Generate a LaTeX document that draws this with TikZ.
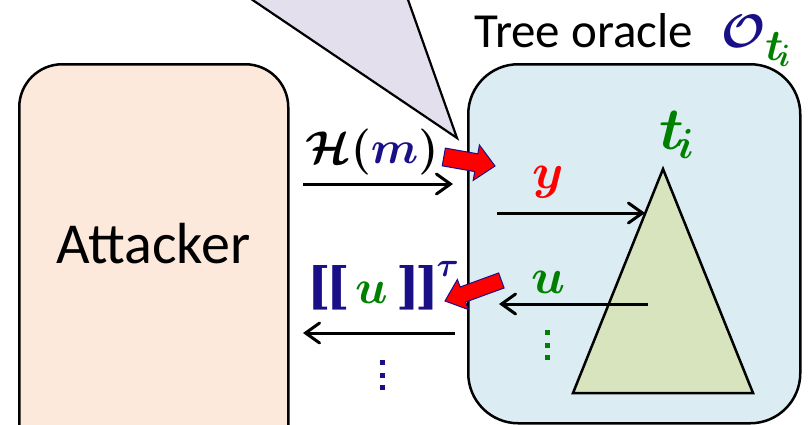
\RequirePackage{fix-cm}
\documentclass[tikz,border=0pt]{standalone}
\usepackage{amsmath}
\usepackage[no-math]{fontspec}
\setmainfont{Carlito}
\newfontfamily\brfont{DejaVu Serif}
\usetikzlibrary{arrows.meta}
\definecolor{navy}{RGB}{25,15,135}
\definecolor{dgreen}{RGB}{0,128,0}
\definecolor{bred}{RGB}{255,0,0}
\definecolor{peach}{RGB}{252,233,219}
\definecolor{lblue}{RGB}{219,237,243}
\definecolor{olive}{RGB}{215,228,190}
\definecolor{lavender}{RGB}{228,223,236}
\newcommand\mysqdots{\vbox{\offinterlineskip\hbox{\rule{5pt}{5pt}}\kern7.5pt\hbox{\rule{5pt}{5pt}}\kern7.5pt\hbox{\rule{5pt}{5pt}}}}
\newcommand\mfs[1]{\fontsize{#1}{#1}\selectfont\boldmath}
\newcommand\brk[1]{{\brfont\bfseries\fontsize{50}{52}\selectfont#1}}
\tikzset{
  bigbox/.style={draw=black, line width=2.5pt, inner sep=0pt, anchor=north west},
  arr/.style={line width=3pt, -{Straight Barb[length=14pt,width=20pt,line cap=round]}},
  blockarrow/.style={fill=bred, draw=navy, line width=1pt, line join=miter},
  mathlab/.style={inner sep=0pt},
}
\begin{document}
\begin{tikzpicture}[x=1pt,y=-1pt]
\useasboundingbox (0,0) rectangle (810,424);
\clip (0,0) rectangle (810,424);
% boxes
\node[bigbox, fill=peach, rounded corners=43pt, minimum width=269pt, minimum height=420pt] (attbox) at (18,63) {};
\node[bigbox, fill=lblue, rounded corners=50pt, minimum width=332pt, minimum height=359pt] (orbox) at (467,63) {};
\node[anchor=base west, inner sep=0pt, font=\fontsize{58}{60}\selectfont] (att) at (56,263) {Attacker};
\node[anchor=base west, inner sep=0pt, font=\fontsize{49}{52}\selectfont] (title) at (474,47) {Tree oracle};
\node[anchor=base west, inner sep=0pt] (oti) at (721,47) {{\mfs{47}$\textcolor{navy}{\mathcal{O}}$}\raisebox{-13pt}{\mfs{44}$\textcolor{dgreen}{t_{\!i}}$}};
% lavender callout
\coordinate (cl1) at (223,-20);
\coordinate (cl2) at (401,-20);
\coordinate (cltip) at (457,138);
\draw[fill=lavender, line width=2.2pt, line join=miter] (cl1) -- (cltip) -- (cl2);
% triangle
\coordinate (apex) at (663,169);
\coordinate (bl) at (573,393);
\coordinate (br) at (753,393);
\draw[fill=olive, line width=2.5pt, line join=miter] (apex) -- (bl) -- (br) -- cycle;
\node[mathlab, font=\mfs{60}, text=dgreen] (ti) at (677,135) {$t_{\!i}$};
% labels
\node[mathlab, font=\mfs{46}] (hm) at (372,152) {$\mathcal{H}(\textcolor{navy}{m})$};
% red block arrows
\begin{scope}[shift={(495,166)}, rotate=-10]
\draw[blockarrow] (0,0) -- (-19,-18) -- (-19,-9) -- (-52,-9) -- (-52,9) -- (-19,9) -- (-19,18) -- cycle;
\end{scope}
\begin{scope}[shift={(445,301)}, rotate=200]
\draw[blockarrow] (0,0) -- (-19,-16) -- (-19,-8) -- (-60,-8) -- (-60,8) -- (-19,8) -- (-19,16) -- cycle;
\end{scope}
\node[mathlab, anchor=base west, text=navy] (ut) at (307,303) {\brk{[\kern-4pt[}\hspace{5pt}{\mfs{48}$\textcolor{dgreen}{u}$}\hspace{8pt}\brk{]\kern-4pt]}\kern-3pt\raisebox{27pt}{\mfs{34}$\tau$}};
\node[mathlab, font=\mfs{50}, text=bred] (ylab) at (548,182) {$y$};
\node[mathlab, font=\mfs{50}, text=dgreen] (ulab) at (549,282) {$u$};
\node[mathlab, text=navy] (vd1) at (382,375) {\mysqdots};
\node[mathlab, text=dgreen] (vd2) at (547,345) {\mysqdots};
% arrows
\coordinate (a1s) at (303,184); \coordinate (a1e) at (453,184);
\draw[arr] (a1s) -- (a1e);
\coordinate (a2s) at (497,213); \coordinate (a2e) at (645,213);
\draw[arr] (a2s) -- (a2e);
\coordinate (a3s) at (648,304); \coordinate (a3e) at (499,304);
\draw[arr] (a3s) -- (a3e);
\coordinate (a4s) at (455,333); \coordinate (a4e) at (303,333);
\draw[arr] (a4s) -- (a4e);
\end{tikzpicture}
\end{document}
